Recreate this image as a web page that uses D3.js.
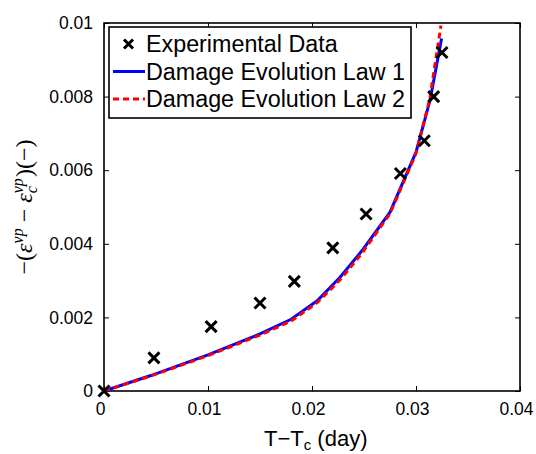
<!DOCTYPE html>
<html>
<head>
<meta charset="utf-8">
<script src="https://cdn.jsdelivr.net/npm/d3@7"></script>
<style>
html,body{margin:0;padding:0;background:#fff;}
svg{display:block;}
</style>
</head>
<body>
<svg id="chart" width="536" height="454"></svg>
<script>
// ---- data ----
const expX = [0, 0.0048, 0.0103, 0.0150, 0.0183, 0.0220, 0.0252, 0.0285, 0.0308, 0.0317, 0.0325];
const expY = [0, 0.00090, 0.00175, 0.00239, 0.00298, 0.00389, 0.00481, 0.00591, 0.00680, 0.00800, 0.00920];
const law1X = [0, 0.0045, 0.0100, 0.0150, 0.0180, 0.0205, 0.0227, 0.0248, 0.0275, 0.0300, 0.03135, 0.03246];
const law1Y = [0, 0.00042, 0.00098, 0.00155, 0.00195, 0.00245, 0.00309, 0.00381, 0.00486, 0.00649, 0.00790, 0.00958];
const law2X = [0, 0.0045, 0.0100, 0.0150, 0.0180, 0.0205, 0.0227, 0.0248, 0.0275, 0.0300, 0.0313, 0.0324];
const law2Y = [0, 0.00041, 0.00096, 0.00152, 0.00190, 0.00240, 0.00302, 0.00374, 0.00482, 0.00646, 0.00790, 0.00993];
const xTicks = [0, 0.01, 0.02, 0.03, 0.04];
const xTickLabels = ["0", "0.01", "0.02", "0.03", "0.04"];
const yTicks = [0, 0.002, 0.004, 0.006, 0.008, 0.01];
const yTickLabels = ["0", "0.002", "0.004", "0.006", "0.008", "0.01"];
const legendLabels = ["Experimental Data", "Damage Evolution Law 1", "Damage Evolution Law 2"];

// ---- layout ----
const L = 104, R = 520, T = 23, B = 391;
const svg = d3.select("#chart");
const x = d3.scaleLinear().domain([0, 0.04]).range([L, R]);
const y = d3.scaleLinear().domain([0, 0.01]).range([B, T]);
const font = "'Liberation Sans', Arial, Helvetica, sans-serif";

// axes (ticks inward)
const tickLen = 5;
const gx = svg.append("g").attr("transform", `translate(0,${B})`)
  .call(d3.axisBottom(x).tickValues(xTicks).tickFormat((d,i)=>xTickLabels[i]).tickSizeInner(-tickLen).tickSizeOuter(0).tickPadding(12));
const gxt = svg.append("g").attr("transform", `translate(0,${T})`)
  .call(d3.axisTop(x).tickValues(xTicks).tickFormat("").tickSizeInner(-tickLen).tickSizeOuter(0));
const gy = svg.append("g").attr("transform", `translate(${L},0)`)
  .call(d3.axisLeft(y).tickValues(yTicks).tickFormat((d,i)=>yTickLabels[i]).tickSizeInner(-tickLen).tickSizeOuter(0).tickPadding(11));
const gyr = svg.append("g").attr("transform", `translate(${R},0)`)
  .call(d3.axisRight(y).tickValues(yTicks).tickFormat("").tickSizeInner(-tickLen).tickSizeOuter(0));
[gx, gxt, gy, gyr].forEach(g => {
  g.select(".domain").remove();
  g.selectAll(".tick line").attr("stroke", "#000").attr("stroke-width", 1);
  g.selectAll("text").attr("fill", "#000").style("font-family", font).style("font-size", "17.5px");
});
gx.selectAll(".tick text").attr("dx", -4);

// frame
svg.append("rect").attr("x", L).attr("y", T).attr("width", R - L).attr("height", B - T)
  .attr("fill", "none").attr("stroke", "#000").attr("stroke-width", 1.6);

// curves
const line = d3.line().x(d => x(d[0])).y(d => y(d[1]));
const law1 = law1X.map((v, i) => [v, law1Y[i]]);
const law2 = law2X.map((v, i) => [v, law2Y[i]]);
svg.append("path").datum(law1).attr("d", line).attr("fill", "none")
  .attr("stroke", "#0000ff").attr("stroke-width", 3);
svg.append("path").datum(law2).attr("d", line).attr("fill", "none")
  .attr("stroke", "#ff0000").attr("stroke-width", 3).attr("stroke-dasharray", "6,4");

// experimental markers
const m = 5.5;
const exp = expX.map((v, i) => [v, expY[i]]);
svg.append("g").selectAll("path").data(exp).join("path")
  .attr("d", d => {
    const cx = x(d[0]), cy = y(d[1]);
    return `M${cx-m},${cy-m}L${cx+m},${cy+m}M${cx-m},${cy+m}L${cx+m},${cy-m}`;
  })
  .attr("stroke", "#000").attr("stroke-width", 3).attr("fill", "none");

// legend
const lg = svg.append("g");
lg.append("rect").attr("x", 109).attr("y", 27).attr("width", 302).attr("height", 91)
  .attr("fill", "#fff").attr("stroke", "#000").attr("stroke-width", 1.6);
const rowsY = [44, 71.5, 99];
{
  const cx = 128.5, cy = rowsY[0], mm = 4.5;
  lg.append("path").attr("d", `M${cx-mm},${cy-mm}L${cx+mm},${cy+mm}M${cx-mm},${cy+mm}L${cx+mm},${cy-mm}`)
    .attr("stroke", "#000").attr("stroke-width", 3);
}
lg.append("line").attr("x1", 113).attr("x2", 145).attr("y1", rowsY[1]).attr("y2", rowsY[1])
  .attr("stroke", "#0000ff").attr("stroke-width", 3);
lg.append("line").attr("x1", 113).attr("x2", 145).attr("y1", rowsY[2]).attr("y2", rowsY[2])
  .attr("stroke", "#ff0000").attr("stroke-width", 3).attr("stroke-dasharray", "6,4");
lg.selectAll("text.lab").data(legendLabels).join("text").attr("class", "lab")
  .attr("x", 146).attr("y", (d, i) => rowsY[i]).attr("dy", "0.36em")
  .style("font-family", font).style("font-size", "23.3px").attr("fill", "#000")
  .text(d => d);

// x axis title
const xt = svg.append("text").attr("x", 264).attr("y", 446)
  .style("font-family", font).style("font-size", "22px").attr("fill", "#000");
xt.append("tspan").text("T\u2212T");
xt.append("tspan").attr("dy", 4).style("font-size", "15px").text("c");
xt.append("tspan").attr("dy", -4).text(" (day)");

// y axis title (LaTeX-like)
const yt = svg.append("text").attr("transform", `translate(32,${207}) rotate(-90)`)
  .attr("text-anchor", "middle")
  .style("font-family", "'Liberation Serif', 'DejaVu Serif', serif").style("font-size", "24px").attr("fill", "#000");
yt.append("tspan").text("\u2212(");
yt.append("tspan").style("font-style", "italic").text("\u03b5");
yt.append("tspan").attr("dy", -9).style("font-size", "16px").style("font-style", "italic").text("vp");
yt.append("tspan").attr("dy", 9).text(" \u2212 ");
yt.append("tspan").style("font-style", "italic").text("\u03b5");
yt.append("tspan").attr("dy", -9).style("font-size", "16px").style("font-style", "italic").text("vp");
yt.append("tspan").attr("dx", -15).attr("dy", 14).style("font-size", "16px").style("font-style", "italic").text("c");
yt.append("tspan").attr("dx", 9).attr("dy", -5).text(")(\u2212)");
</script>
</body>
</html>
